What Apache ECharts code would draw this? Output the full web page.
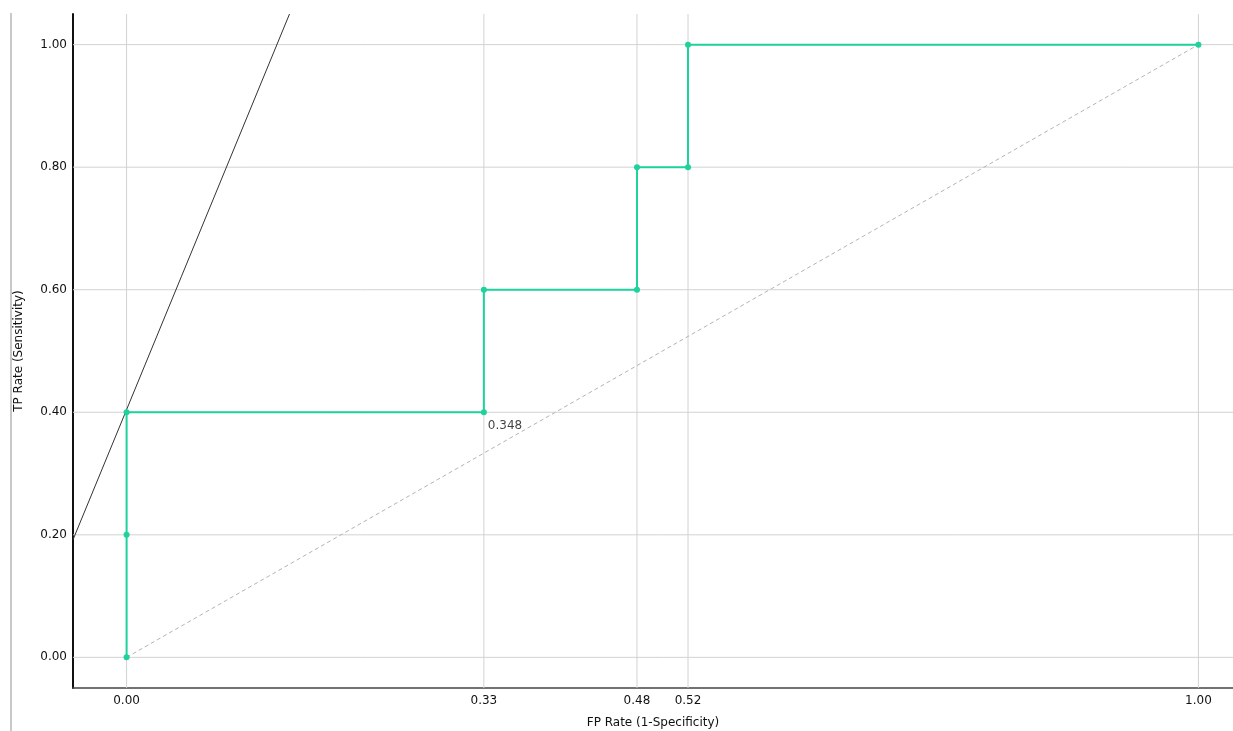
<!DOCTYPE html>
<html>
<head>
<meta charset="utf-8">
<script src="https://cdn.jsdelivr.net/npm/echarts@6/dist/echarts.min.js"></script>
<style>html,body{margin:0;padding:0;background:#fff;overflow:hidden;width:1233px;height:731px;}#c{width:1253px;height:731px;}</style>
</head>
<body>
<div id="c"></div>
<script>
// ROC curve points (FP rate, TP rate)
var rocFpr = [0, 0, 0, 1/3, 1/3, 10/21, 10/21, 11/21, 11/21, 1];
var rocTpr = [0, 0.2, 0.4, 0.4, 0.6, 0.6, 0.8, 0.8, 1.0, 1.0];
// x tick values (distinct FPR values), y tick values
var xTicks = [0, 1/3, 10/21, 11/21, 1];
var yTicks = [0, 0.2, 0.4, 0.6, 0.8, 1.0];
// chance diagonal
var diagX = [0, 1];
var diagY = [0, 1];
// iso-performance line endpoints
var isoX = [-0.05, 0.152];
var isoY = [0.192, 1.05];
// threshold annotation
var threshX = [1/3];
var threshY = [0.4];
var threshText = ['0.348'];

var FONT = 'DejaVu Sans';
var gridColor = '#d2d2d2';
var AX_MIN = -0.05, AX_MAX = 1.05;

function pairs(xs, ys){ return xs.map(function(x,i){ return [x, ys[i]]; }); }

var gridSeries = [];
xTicks.forEach(function(v){
  gridSeries.push({ type: 'line', data: [[v, AX_MIN], [v, AX_MAX]], showSymbol: false, silent: true, z: 1,
    lineStyle: { color: gridColor, width: 1 } });
});
yTicks.forEach(function(v){
  gridSeries.push({ type: 'line', data: [[AX_MIN, v], [AX_MAX, v]], showSymbol: false, silent: true, z: 1,
    lineStyle: { color: gridColor, width: 1 } });
});

var chart = echarts.init(document.getElementById('c'), null, {renderer:'canvas'});
var option = {
  animation: false,
  backgroundColor: '#fff',
  grid: { left: 73, top: 14, width: 1179, height: 674, containLabel: false },
  xAxis: {
    type: 'value', min: AX_MIN, max: AX_MAX,
    axisLine: { show: true, onZero: false, lineStyle: { color: '#444', width: 1.5 } },
    axisTick: { show: false },
    splitLine: { show: false },
    axisLabel: { customValues: xTicks, margin: 7, color: '#111', fontFamily: FONT, fontSize: 12,
      formatter: function(v){ return v.toFixed(2); } }
  },
  yAxis: {
    type: 'value', min: AX_MIN, max: AX_MAX,
    name: 'TP Rate (Sensitivity)', nameLocation: 'middle', nameGap: 48,
    nameTextStyle: { color: '#111', fontFamily: FONT, fontSize: 12 },
    axisLine: { show: true, onZero: false, lineStyle: { color: '#111', width: 2 } },
    axisTick: { show: false },
    splitLine: { show: false },
    axisLabel: { customValues: yTicks, margin: 6, color: '#111', fontFamily: FONT, fontSize: 12,
      formatter: function(v){ return v.toFixed(2); } }
  },
  graphic: [
    { type: 'line', shape: { x1: 11, y1: 13, x2: 11, y2: 731 }, style: { stroke: '#c8c8c8', lineWidth: 2 } },
    { type: 'text', x: 653, y: 723, style: { text: 'FP Rate (1-Specificity)', font: '12px "DejaVu Sans"', fill: '#111', textAlign: 'center', textVerticalAlign: 'middle' } }
  ],
  series: gridSeries.concat([
    {
      type: 'line', name: 'diag', data: pairs(diagX, diagY), showSymbol: false, silent: true, z: 2,
      lineStyle: { color: '#b4b4b4', width: 1, type: [4, 3] }
    },
    {
      type: 'line', name: 'iso', data: pairs(isoX, isoY), showSymbol: false, silent: true, z: 2,
      lineStyle: { color: '#333', width: 1 }
    },
    {
      type: 'line', name: 'roc', data: pairs(rocFpr, rocTpr), symbol: 'circle', symbolSize: 6, showSymbol: true,
      lineStyle: { color: '#1fd19c', width: 2 }, itemStyle: { color: '#1fd19c' }, z: 5
    },
    {
      type: 'scatter', name: 'thr', data: pairs(threshX, threshY), symbolSize: 0, silent: true, z: 6,
      label: { show: true, position: 'right', distance: 4, offset: [0, 14],
        formatter: function(p){ return threshText[p.dataIndex]; },
        color: '#111', fontFamily: FONT, fontSize: 12 }
    }
  ])
};
chart.setOption(option);
</script>
</body>
</html>
